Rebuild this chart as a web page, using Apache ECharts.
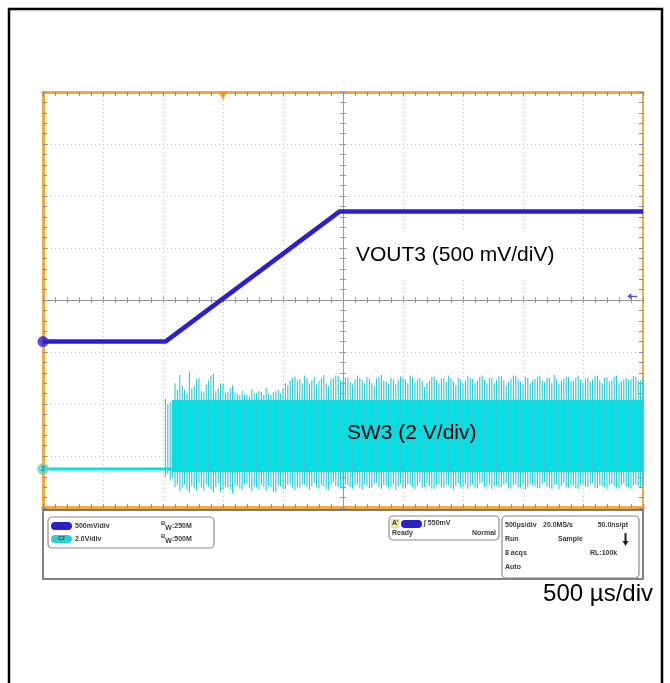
<!DOCTYPE html>
<html>
<head>
<meta charset="utf-8">
<title>VOUT3 / SW3 start-up</title>
<script src="https://cdn.jsdelivr.net/npm/echarts@6/dist/echarts.min.js"></script>
<style>
  html, body { margin: 0; padding: 0; background: #fff; }
  #scope { width: 670px; height: 683px; }
</style>
</head>
<body>
<div id="scope"></div>
<script>
// ---- data (time in ms, volts per channel) ----
var vout3Time = [0, 1.02, 2.47, 5.0];
var vout3Volt = [0, 0, 1.25, 1.25];

var sw3IdleTime = [0, 1.08];
var sw3IdleVolt = [0, 0];

// solid part of the switching burst: start, end, top, bottom
var sw3Band = [1.08, 5.0, 2.65, -0.12];

// spike peaks, one every 20 us starting at 1.02 ms
var sw3SpikeStart = 1.02;
var sw3SpikeStep = 0.02;
var sw3SpikeHigh = [
  2.7, 2.5, 2.6, 2.65,
  3.3, 3.05, 3.62, 3.2, 3.05, 2.9, 3.75, 3.1, 3.2, 3.45, 3.5, 3.0, 2.98, 3.25, 3.4, 3.6, 3.66, 3.0, 3.1, 3.3, 3.3, 2.9, 2.95, 3.1, 3.22,
  2.95, 2.9, 2.85, 3.02, 2.9, 2.85, 2.8, 3.08, 2.9, 2.92, 3.0, 2.96, 2.85, 3.12, 2.9, 2.86, 2.95, 3.0, 3.05, 2.9, 3.1, 3.3, 3.2, 3.4, 3.5, 3.55, 3.4,
  3.45, 3.3, 3.6, 3.5, 3.3, 3.4, 3.55, 3.25, 3.38, 3.5, 3.62, 3.3, 3.2, 3.45, 3.5, 3.6, 3.58, 3.4, 3.35, 3.52,
  3.52, 3.35, 3.25, 3.45, 3.6, 3.5, 3.42, 3.3, 3.55, 3.48, 3.3, 3.2, 3.48, 3.55, 3.62, 3.4, 3.36, 3.28, 3.5, 3.45,
  3.28, 3.4, 3.57, 3.5, 3.44, 3.3, 3.6, 3.52, 3.32, 3.45, 3.5, 3.38, 3.15, 3.3, 3.4, 3.55, 3.56, 3.4, 3.3, 3.48,
  3.48, 3.35, 3.6, 3.5, 3.35, 3.22, 3.52, 3.45, 3.26, 3.4, 3.58, 3.5, 3.45, 3.3, 3.38, 3.55, 3.6, 3.42, 3.3, 3.5,
  3.5, 3.3, 3.42, 3.58, 3.57, 3.4, 3.22, 3.35, 3.48, 3.6, 3.6, 3.45, 3.36, 3.25, 3.54, 3.5, 3.3, 3.42, 3.46, 3.55,
  3.58, 3.4, 3.34, 3.5, 3.5, 3.3, 3.62, 3.45, 3.28, 3.4, 3.47, 3.55, 3.55, 3.35, 3.38, 3.5, 3.6, 3.42, 3.32, 3.48,
  3.5, 3.36, 3.44, 3.6, 3.58, 3.4, 3.3, 3.5, 3.52, 3.36, 3.4, 3.55, 3.6, 3.3, 3.36, 3.45, 3.5, 3.42, 3.45, 3.58,
  3.55, 3.38, 3.4, 3.5
];
var sw3SpikeLow = [
  -0.3, -0.2, -0.45, -0.35,
  -0.7, -0.6, -0.85, -0.72, -0.6, -0.8, -0.9, -0.65, -0.75, -0.82, -0.55, -0.7, -0.82, -0.6, -0.68, -0.78, -0.88, -0.7, -0.6, -0.85, -0.78, -0.66, -0.7, -0.8, -0.92, -0.62,
  -0.65, -0.75, -0.8, -0.6, -0.58, -0.72, -0.86, -0.68, -0.72, -0.8, -0.62, -0.7, -0.84, -0.66, -0.7, -0.88, -0.9, -0.64, -0.66, -0.76, -0.78, -0.6, -0.6, -0.74, -0.82, -0.7,
  -0.72, -0.6, -0.6, -0.7, -0.8, -0.66, -0.55, -0.7, -0.75, -0.62, -0.68, -0.78, -0.82, -0.6, -0.5, -0.66, -0.7, -0.74, -0.78, -0.58,
  -0.62, -0.7, -0.76, -0.64, -0.58, -0.72, -0.8, -0.6, -0.66, -0.74, -0.72, -0.56, -0.52, -0.7, -0.78, -0.62, -0.64, -0.76, -0.7, -0.6,
  -0.8, -0.68, -0.56, -0.74, -0.74, -0.6, -0.6, -0.7, -0.78, -0.64, -0.5, -0.72, -0.7, -0.58, -0.66, -0.76, -0.76, -0.62, -0.58, -0.7,
  -0.72, -0.6, -0.62, -0.74, -0.8, -0.66, -0.54, -0.7, -0.7, -0.58, -0.76, -0.64, -0.6, -0.72, -0.74, -0.56, -0.52, -0.7, -0.68, -0.62,
  -0.78, -0.66, -0.64, -0.72, -0.7, -0.6, -0.56, -0.74, -0.76, -0.62, -0.6, -0.7, -0.72, -0.58, -0.8, -0.7, -0.58, -0.64, -0.66, -0.74,
  -0.74, -0.6, -0.5, -0.66, -0.7, -0.76, -0.62, -0.58, -0.78, -0.66, -0.56, -0.7, -0.72, -0.62, -0.64, -0.74, -0.76, -0.6, -0.6, -0.68,
  -0.7, -0.58, -0.54, -0.72, -0.74, -0.64, -0.66, -0.7, -0.78, -0.6, -0.58, -0.66, -0.72, -0.76, -0.62, -0.58, -0.68, -0.7, -0.75, -0.64,
  -0.6, -0.68, -0.7, -0.62
];

// channel offsets (divisions from centre) and scales (V/div)
var ch1Pos = -0.8, ch1Scale = 0.5;
var ch2Pos = -3.25, ch2Scale = 2;
var trigTime = 1.5;      // ms
var trigLevelDiv = 0.07; // level arrow on the right

var blue = '#2a1fd2';
var cyan = '#00e4e8';
var orange = '#f3aa45';

document.addEventListener("DOMContentLoaded", function () {
  var chart = echarts.init(document.getElementById('scope'), null, { renderer: 'canvas' });

  function onCh1(v) { return ch1Pos + v / ch1Scale; }
  function onCh2(v) { return ch2Pos + v / ch2Scale; }

  var voutData = vout3Time.map(function (t, i) { return [t, onCh1(vout3Volt[i])]; });
  var idleData = sw3IdleTime.map(function (t, i) { return [t, onCh2(sw3IdleVolt[i])]; });
  var bandData = [[sw3Band[0], sw3Band[1], onCh2(sw3Band[2]), onCh2(sw3Band[3])]];
  var spikeData = sw3SpikeHigh.map(function (h, i) {
    return [sw3SpikeStart + i * sw3SpikeStep, onCh2(h), onCh2(sw3SpikeLow[i])];
  });

  // frame axis (orange border with inner ticks)
  function frameAxis(pos, extra) {
    var a = {
      type: 'value', position: pos,
      axisLine: { show: true, onZero: false, lineStyle: { color: orange, width: 3 } },
      axisTick: { show: true, inside: true, length: 4, lineStyle: { color: '#8a8a8a' } },
      minorTick: { show: true, splitNumber: 5, length: 4, lineStyle: { color: '#8a8a8a' } },
      axisLabel: { show: false },
      splitLine: { show: false }
    };
    return Object.assign(a, extra);
  }
  // centre cross-hair axis
  function centreAxis(pos, off, inside) {
    return {
      type: 'value', position: pos, offset: off,
      axisLine: { show: true, onZero: false, lineStyle: { color: '#9a9a9a', width: 1 } },
      axisTick: { show: true, inside: inside, length: 3, lineStyle: { color: '#9a9a9a' } },
      minorTick: { show: true, splitNumber: 5, length: 3, lineStyle: { color: '#9a9a9a' } },
      axisLabel: { show: false },
      splitLine: { show: false }
    };
  }

  var xRange = { min: 0, max: 5, interval: 0.5 };
  var yRange = { min: -4, max: 4, interval: 1 };
  var dots = { show: true, lineStyle: { color: '#c4c4c4', width: 1, type: [1, 3] } };

  var xAxes = [
    Object.assign(frameAxis('bottom', { splitLine: dots }), xRange),
    Object.assign(frameAxis('top'), xRange),
    Object.assign(centreAxis('bottom', -208, true), xRange),
    Object.assign(centreAxis('bottom', -208, false), xRange)
  ];
  xAxes[0].axisLine.lineStyle.width = 4;
  var yAxes = [
    Object.assign(frameAxis('left', { splitLine: dots }), yRange),
    Object.assign(frameAxis('right'), yRange),
    Object.assign(centreAxis('left', -300, true), yRange),
    Object.assign(centreAxis('left', -300, false), yRange)
  ];
  yAxes[1].axisLine.lineStyle.width = 2;

  var small = 'bold 7px "Liberation Sans", Arial, sans-serif';
  function label(x, y, text, align) {
    return { type: 'text', x: x, y: y, z: 101,
      style: { text: text, font: small, fill: '#3a3a3a', align: align || 'left', verticalAlign: 'middle' } };
  }
  // channel badge: rounded pill with its name
  function pill(x, y, color, text) {
    return [
      { type: 'rect', z: 101, shape: { x: x, y: y, width: 21, height: 8, r: 4 }, style: { fill: color } },
      { type: 'text', z: 102, x: x + 10.5, y: y + 4,
        style: { text: text, font: 'bold 5px sans-serif', fill: '#334', align: 'center', verticalAlign: 'middle' } }
    ];
  }
  function box(x, y, w, h) {
    return { type: 'rect', z: 99, shape: { x: x, y: y, width: w, height: h, r: 4 },
      style: { fill: '#fff', stroke: '#8c8c8c', lineWidth: 1.2 } };
  }
  function bw(x, y, text) {
    return { type: 'text', x: x, y: y, z: 101, style: {
      text: '{b|B}{w|W}' + text, font: small, fill: '#3a3a3a', verticalAlign: 'middle',
      rich: { b: { font: 'bold 6px sans-serif', verticalAlign: 'top', fill: '#3a3a3a' },
              w: { font: 'bold 7px sans-serif', fill: '#3a3a3a', padding: [4, 0, 0, 0] } } } };
  }

  var graphics = [
    // outer black frame
    { type: 'rect', z: 100, shape: { x: 9, y: 9, width: 653, height: 700 },
      style: { fill: 'none', stroke: '#000', lineWidth: 2.5 } },
    // status panel
    { type: 'rect', z: 98, shape: { x: 43, y: 510, width: 600, height: 69 },
      style: { fill: '#fff', stroke: '#5a5a5a', lineWidth: 1.5 } },
    box(48, 517, 166, 31),
    label(75, 526, '500mV/div'), bw(161, 526, ':250M'),
    label(75, 539, '2.0V/div'), bw(161, 539, ':500M'),
    box(389, 516, 110, 24),
    { type: 'rect', z: 100, shape: { x: 391, y: 519, width: 8, height: 9 }, style: { fill: '#efe2a0' } },
    label(392, 523, "A'"),
    label(424, 523, '\u222B 550mV'),
    label(392, 533, 'Ready'), label(496, 533, 'Normal', 'right'),
    box(502, 516, 137, 62),
    label(505, 525, '500\u00B5s/div'), label(543, 525, '20.0MS/s'), label(628, 525, '50.0ns/pt', 'right'),
    label(505, 539, 'Run'), label(558, 539, 'Sample'),
    { type: 'polygon', z: 101, shape: { points: [[624.5, 533], [626.5, 533], [626.5, 541], [628.5, 541], [625.5, 546], [622.5, 541], [624.5, 541]] },
      style: { fill: '#222' } },
    label(505, 553, '8 acqs'), label(590, 553, 'RL:100k'),
    label(505, 567, 'Auto'),
    // annotations
    { type: 'text', x: 349, y: 255, z: 90, style: {
      text: 'VOUT3 (500 mV/diV)', font: '21px "Liberation Sans", Arial, sans-serif', fill: '#000',
      verticalAlign: 'middle', backgroundColor: '#fff', padding: [13, 6, 13, 7] } },
    { type: 'text', x: 347, y: 433, z: 90, style: {
      text: 'SW3 (2 V/div)', font: '21px "Liberation Sans", Arial, sans-serif', fill: '#000', verticalAlign: 'middle' } },
    { type: 'text', x: 653, y: 594, z: 90, style: {
      text: '500 \u00B5s/div', font: '24px "Liberation Sans", Arial, sans-serif', fill: '#000',
      align: 'right', verticalAlign: 'middle' } }
  ].concat(pill(51, 522, blue, 'C1'), pill(51, 535, '#2fcfcf', 'C2'), pill(401, 520, blue, 'C1'));

  var option = {
    animation: false,
    backgroundColor: '#fff',
    grid: { left: 43, top: 92, width: 600, height: 416, containLabel: false },
    xAxis: xAxes,
    yAxis: yAxes,
    graphic: { elements: graphics },
    series: [
      {
        name: 'SW3 burst', type: 'custom', z: 3,
        encode: { x: [0, 1], y: [2, 3] },
        data: bandData,
        renderItem: function (params, api) {
          var p0 = api.coord([api.value(0), api.value(2)]);
          var p1 = api.coord([api.value(1), api.value(3)]);
          return { type: 'rect', shape: { x: p0[0], y: p0[1], width: p1[0] - p0[0], height: p1[1] - p0[1] },
            style: { fill: cyan } };
        }
      },
      {
        name: 'SW3 spikes', type: 'custom', z: 3,
        encode: { x: 0, y: [1, 2] },
        data: spikeData,
        renderItem: function (params, api) {
          var a = api.coord([api.value(0), api.value(1)]);
          var b = api.coord([api.value(0), api.value(2)]);
          return { type: 'line', shape: { x1: a[0], y1: a[1], x2: b[0], y2: b[1] },
            style: { stroke: '#22cdd6', lineWidth: 1.1 } };
        }
      },
      {
        name: 'SW3', type: 'line', z: 4, data: idleData, showSymbol: false,
        lineStyle: { color: cyan, width: 3 }
      },
      {
        name: 'VOUT3', type: 'line', z: 5, data: voutData, showSymbol: false,
        lineStyle: { color: blue, width: 4.5 }
      },
      {
        name: 'markers', type: 'scatter', z: 20, clip: false,
        data: [
          { value: [0, ch1Pos], symbol: 'circle', symbolSize: 11, itemStyle: { color: blue } },
          { value: [0, ch2Pos], symbol: 'circle', symbolSize: 11,
            itemStyle: { color: '#3fd8d8', borderColor: '#e8c070', borderWidth: 1 },
            label: { show: true, position: 'inside', formatter: '2', fontSize: 7, color: '#235' } },
          { value: [trigTime, 4], symbol: 'triangle', symbolRotate: 180, symbolSize: [9, 8],
            symbolOffset: [0, 4], itemStyle: { color: '#f08a1c' } },
          { value: [4.91, trigLevelDiv], symbol: 'path://M0,5 L5,0 L5,4 L12,4 L12,6 L5,6 L5,10 Z',
            symbolSize: [10, 6], itemStyle: { color: blue } }
        ]
      }
    ]
  };

  chart.setOption(option);
});
</script>
</body>
</html>
